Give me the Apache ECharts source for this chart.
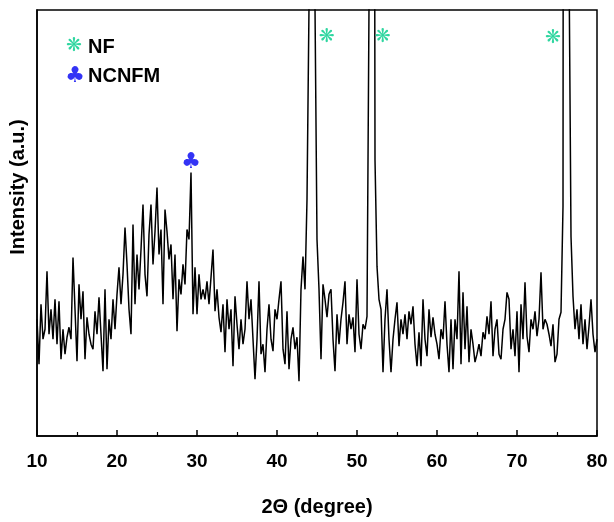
<!DOCTYPE html>
<html>
<head>
<meta charset="utf-8">
<script src="https://cdn.jsdelivr.net/npm/echarts@6/dist/echarts.min.js"></script>
<style>
html,body{margin:0;padding:0;background:#fff;}
#c{width:614px;height:522px;}
</style>
</head>
<body>
<div id="c"></div>
<script>
// 2θ grid (degrees): start and step of the scan
var thetaStart = 10, thetaStep = 0.25;
// Intensity (a.u.), one value per 0.25° from 10° to 80°
var intensity = [
117,72,132,97,      // 10
107,165,102,127,    // 11
97,137,92,135,      // 12
77,107,82,99,       // 13
109,97,179,127,     // 14
75,152,117,145,     // 15
77,119,102,92,      // 16
87,125,102,139,     // 17
102,65,147,67,      // 18
117,97,137,107,     // 19
142,169,132,162,    // 20
209,172,127,102,    // 21
212,132,182,147,    // 22
187,232,162,140,    // 23
202,232,172,205,    // 24
249,182,207,132,    // 25
227,205,177,192,    // 26
137,182,105,157,    // 27
142,172,152,207,    // 28
197,264,122,169,    // 29
122,162,137,147,    // 30
137,155,132,159,    // 31
187,125,147,119,    // 32
104,132,84,137,     // 33
107,127,70,140,     // 34
112,87,117,92,      // 35
107,155,117,137,    // 36
97,57,97,155,       // 37
82,92,64,107,       // 38
132,97,85,127,      // 39
117,137,155,87,     // 40
72,125,67,97,       // 41
109,87,99,55,       // 42
147,180,147,237,    // 43
430,3000,3000,430,  // 44
197,147,77,152,     // 45
137,119,142,147,    // 46
97,65,122,92,       // 47
117,134,155,92,     // 48
122,107,119,84,     // 49
157,102,87,112,     // 50
107,120,430,3000,   // 51
3000,277,170,137,   // 52
127,64,117,147,     // 53
97,64,97,117,       // 54
134,90,117,102,     // 55
122,97,125,112,     // 56
130,92,70,104,      // 57
70,137,97,80,       // 58
127,99,119,102,     // 59
92,77,107,97,       // 60
135,92,64,117,      // 61
67,117,97,165,      // 62
72,144,87,130,      // 63
74,107,92,74,       // 64
82,92,80,104,       // 65
97,120,102,135,     // 66
80,107,117,82,      // 67
77,107,117,144,     // 68
137,87,107,80,      // 69
125,64,132,97,      // 70
154,100,84,117,     // 71
107,125,100,117,    // 72
164,107,117,112,    // 73
102,90,112,74,      // 74
82,117,124,230,     // 75
3000,3000,480,200,  // 76
140,107,127,97,     // 77
132,92,117,87,      // 78
110,137,102,84,     // 79
97                  // 80
];
// Phase markers: positions (2θ, intensity) of the symbols
var nfTheta = [46.2, 53.2, 74.5];
var nfIntensity = [400, 400, 399];
var ncnfmTheta = [29.25];
var ncnfmIntensity = [274];
var xTicks = [10, 20, 30, 40, 50, 60, 70, 80];

var lineData = intensity.map(function (v, i) { return [thetaStart + i * thetaStep, v]; });
var nfData = nfTheta.map(function (t, i) { return [t, nfIntensity[i]]; });
var ncData = ncnfmTheta.map(function (t, i) { return [t, ncnfmIntensity[i]]; });

var FONT = '"Liberation Sans", Arial, sans-serif';
var NF_COLOR = '#2fd6a0', NC_COLOR = '#3333f5';
var chart = echarts.init(document.getElementById('c'), null, {renderer: 'canvas'});
chart.setOption({
  animation: false,
  backgroundColor: '#fff',
  grid: {left: 37, right: 17, top: 10, bottom: 85, show: true, borderColor: '#000', borderWidth: 1.5},
  xAxis: {
    type: 'value', min: xTicks[0], max: xTicks[xTicks.length - 1], interval: 10,
    axisLine: {lineStyle: {color: '#000', width: 1.5}},
    axisTick: {inside: true, length: 6, lineStyle: {color: '#000', width: 1.5}},
    minorTick: {show: true, splitNumber: 2, length: 4, lineStyle: {color: '#000', width: 1.2}},
    axisLabel: {color: '#000', fontFamily: FONT, fontWeight: 'bold', fontSize: 19, margin: 16},
    splitLine: {show: false},
    name: '2\u0398 (degree)', nameLocation: 'middle', nameGap: 61,
    nameTextStyle: {color: '#000', fontFamily: FONT, fontWeight: 'bold', fontSize: 20}
  },
  yAxis: {
    type: 'value', min: 0, max: 427,
    axisLine: {show: true, lineStyle: {color: '#000', width: 1.5}},
    axisTick: {show: false}, axisLabel: {show: false}, splitLine: {show: false}
  },
  series: [
    {
      type: 'line', data: lineData, showSymbol: false, symbol: 'none', clip: true,
      lineStyle: {color: '#000', width: 1.5}
    },
    {
      type: 'scatter', data: nfData, symbolSize: 1, itemStyle: {color: 'rgba(0,0,0,0)', opacity: 1}, z: 5,
      label: {show: true, position: 'inside', formatter: '\u274B', color: NF_COLOR, fontSize: 19, fontFamily: 'DejaVu Sans', opacity: 1}
    },
    {
      type: 'scatter', data: ncData, symbolSize: 1, itemStyle: {color: 'rgba(0,0,0,0)', opacity: 1}, z: 5,
      label: {show: true, position: 'inside', formatter: '\u2663', color: NC_COLOR, fontSize: 22, fontFamily: 'DejaVu Sans', opacity: 1}
    }
  ],
  graphic: [
    {type: 'text', x: 74, y: 46, style: {text: '\u274B', fill: NF_COLOR, font: '19px "DejaVu Sans"', textAlign: 'center', textVerticalAlign: 'middle'}},
    {type: 'text', x: 88, y: 47, style: {text: 'NF', fill: '#000', font: 'bold 20px ' + FONT, textVerticalAlign: 'middle'}},
    {type: 'text', x: 75, y: 76, style: {text: '\u2663', fill: NC_COLOR, font: '22px "DejaVu Sans"', textAlign: 'center', textVerticalAlign: 'middle'}},
    {type: 'text', x: 88, y: 76, style: {text: 'NCNFM', fill: '#000', font: 'bold 20px ' + FONT, textVerticalAlign: 'middle'}},
    {type: 'text', x: 18, y: 187, rotation: Math.PI / 2,
     style: {text: 'Intensity (a.u.)', fill: '#000', font: 'bold 20px ' + FONT, textAlign: 'center', textVerticalAlign: 'middle'}}
  ]
});
</script>
</body>
</html>
